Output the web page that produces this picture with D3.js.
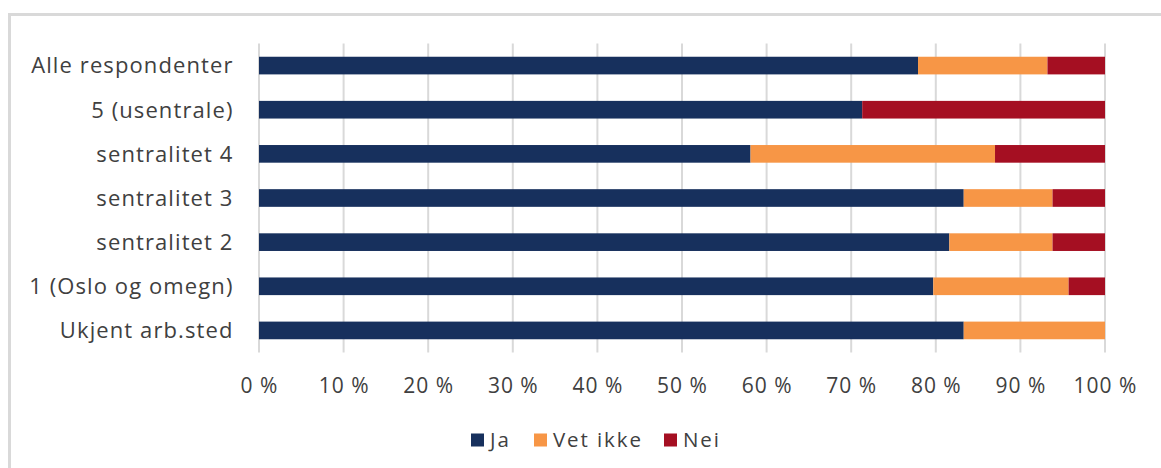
<!DOCTYPE html>
<html><head><meta charset="utf-8">
<script src="https://cdn.jsdelivr.net/npm/d3@7"></script>
<style>
body{margin:0;background:#fff;}
svg text{font-family:"Open Sans","Liberation Sans",sans-serif;fill:#404040;}
</style></head>
<body><svg id="c" width="1161" height="468"></svg>
<script>
const categories = ["Alle respondenter","5 (usentrale)","sentralitet 4","sentralitet 3","sentralitet 2","1 (Oslo og omegn)","Ukjent arb.sted"];
const seriesNames = ["Ja","Vet ikke","Nei"];
const ja      = [77.9, 71.3, 58.1, 83.3, 81.6, 79.7, 83.3];
const vetIkke = [15.3,  0.0, 28.9, 10.5, 12.2, 16.0, 16.7];
const nei     = [ 6.8, 28.7, 13.0,  6.2,  6.2,  4.3,  0.0];
const colors  = ["#17305d","#f79646","#a50f22"];
const ticks   = [0,10,20,30,40,50,60,70,80,90,100];

const svg = d3.select("#c");
// outer frame
svg.append("rect").attr("x",9.5).attr("y",14.5).attr("width",1200).attr("height",500)
  .attr("fill","none").attr("stroke","#d9d9d9").attr("stroke-width",3);

const x = d3.scaleLinear().domain([0,100]).range([259,1105]);
const y = d3.scaleBand().domain(categories).range([43.5,352.5]).paddingInner(0.6).paddingOuter(0.3);

// gridlines
svg.append("g").selectAll("line").data(ticks).join("line")
  .attr("x1",d=>x(d)).attr("x2",d=>x(d)).attr("y1",43.5).attr("y2",352.5)
  .attr("stroke","#d9d9d9").attr("stroke-width",2);

const rows = categories.map((c,i)=>({cat:c, vals:[ja[i],vetIkke[i],nei[i]]}));
const stackData = rows.map(r=>{const o={cat:r.cat}; seriesNames.forEach((s,j)=>o[s]=r.vals[j]); return o;});
const stacked = d3.stack().keys(seriesNames)(stackData);

svg.append("g").selectAll("g").data(stacked).join("g")
  .attr("fill",(d,i)=>colors[i])
  .selectAll("rect").data(d=>d).join("rect")
  .attr("x",d=>x(d[0])).attr("width",d=>Math.max(0,x(d[1])-x(d[0])))
  .attr("y",d=>y(d.data.cat)).attr("height",y.bandwidth());

// category labels
svg.append("g").selectAll("text").data(categories).join("text")
  .attr("x",233.5).attr("y",d=>y(d)+y.bandwidth()/2).attr("dy","0.36em")
  .attr("text-anchor","end").attr("font-size",22).attr("letter-spacing","1.1px").text(d=>d);

// x tick labels
svg.append("g").selectAll("text").data(ticks).join("text")
  .attr("x",d=>x(d)+0.5).attr("y",385).attr("dy","0.36em")
  .attr("text-anchor","middle").attr("font-size",21).attr("letter-spacing","1px").text(d=>d+" %");

// legend
const leg = [{n:"Ja",x:471},{n:"Vet ikke",x:534},{n:"Nei",x:664}];
const lg = svg.append("g");
leg.forEach((l,i)=>{
  lg.append("rect").attr("x",l.x).attr("y",433.5).attr("width",13).attr("height",13).attr("fill",colors[i]);
  lg.append("text").attr("x",l.x+19).attr("y",440).attr("dy","0.36em").attr("font-size",20.5).attr("letter-spacing","1.9px").text(l.n);
});
</script></body></html>
